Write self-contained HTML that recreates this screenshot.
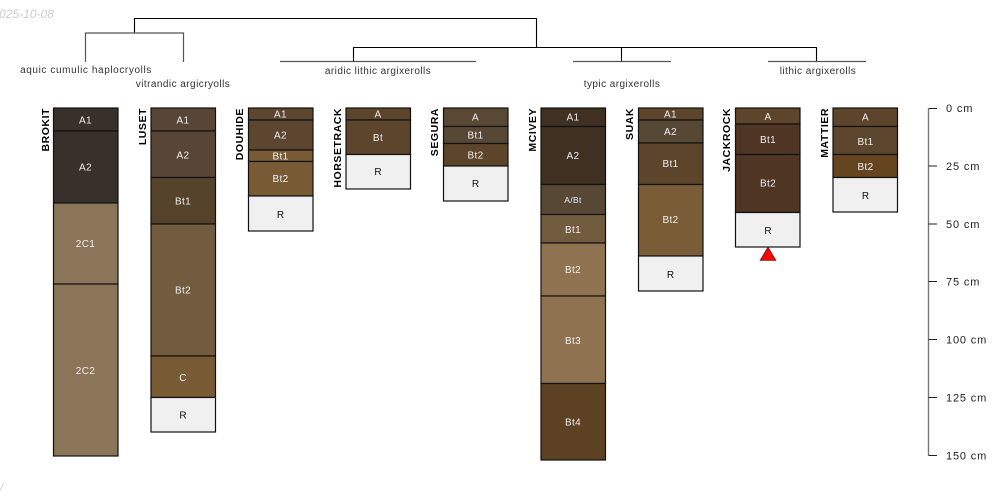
<!DOCTYPE html>
<html><head><meta charset="utf-8"><style>
html,body{margin:0;padding:0;background:#fff;width:1000px;height:500px;overflow:hidden}
svg{display:block;font-family:"Liberation Sans",sans-serif;font-size:10px}
.n{font-weight:bold;fill:#000;font-size:10.5px;letter-spacing:.55px}
.w{fill:#eee;text-anchor:middle;letter-spacing:.35px}
.k{fill:#111;text-anchor:middle}
.t{fill:#333;text-anchor:middle;font-size:10px;letter-spacing:.45px}
.a{fill:#222;font-size:11px;letter-spacing:.85px}
</style></head><body>
<svg width="1000" height="500" viewBox="0 0 1000 500" xmlns="http://www.w3.org/2000/svg">
<text x="-7.500" y="18" font-style="italic" fill="#ccc" font-size="12">2025-10-08</text>
<text x="0" y="491" font-style="italic" fill="#ccc" font-size="11">/</text>

<g fill="none">
<path d="M134.5 33V18.5H536.5V47M353.5 61V47.5H816.5V61M621.5 47.5V61" stroke="#000" stroke-width="1.1"/>
<path d="M85.5 62V33H183.5V62" stroke="#555" stroke-width="1.2"/>
<path d="M280 61.5H476M573 61.5H671M768 61.5H866" stroke="#555" stroke-width="1.2"/>
</g>
<text class="t" x="86" y="73" style="letter-spacing:.6px">aquic cumulic haplocryolls</text>
<text class="t" x="183" y="87">vitrandic argicryolls</text>
<text class="t" x="378" y="74">aridic lithic argixerolls</text>
<text class="t" x="622" y="87">typic argixerolls</text>
<text class="t" x="818" y="74">lithic argixerolls</text>

<g stroke="#111" stroke-width="1.2">
<rect x="53.500" y="108" width="64.500" height="23" fill="#38302a"/>
<rect x="53.500" y="131" width="64.500" height="72" fill="#38302a"/>
<rect x="53.500" y="203" width="64.500" height="81" fill="#8b7558"/>
<rect x="53.500" y="284" width="64.500" height="172" fill="#8b7558"/>

<rect x="151" y="108" width="64.500" height="23" fill="#574535"/>
<rect x="151" y="131" width="64.500" height="46.500" fill="#574535"/>
<rect x="151" y="177.500" width="64.500" height="46.500" fill="#54422b"/>
<rect x="151" y="224" width="64.500" height="132" fill="#725c40"/>
<rect x="151" y="356" width="64.500" height="41.500" fill="#785a34"/>
<rect x="151" y="397.500" width="64.500" height="34.500" fill="#f0f0f0"/>

<rect x="248.500" y="108" width="64.500" height="12" fill="#5c4630"/>
<rect x="248.500" y="120" width="64.500" height="30" fill="#5c4630"/>
<rect x="248.500" y="150" width="64.500" height="11.500" fill="#785a34"/>
<rect x="248.500" y="161.500" width="64.500" height="34.500" fill="#785a34"/>
<rect x="248.500" y="196" width="64.500" height="35" fill="#f0f0f0"/>

<rect x="346" y="108" width="64.500" height="12" fill="#5c452b"/>
<rect x="346" y="120" width="64.500" height="34.500" fill="#5c452b"/>
<rect x="346" y="154.500" width="64.500" height="34.500" fill="#f0f0f0"/>

<rect x="443.500" y="108" width="64.500" height="18.500" fill="#594934"/>
<rect x="443.500" y="126.500" width="64.500" height="17" fill="#574835"/>
<rect x="443.500" y="143.500" width="64.500" height="22.500" fill="#5c452b"/>
<rect x="443.500" y="166" width="64.500" height="35" fill="#f0f0f0"/>

<rect x="541" y="108" width="64.500" height="18.500" fill="#3f3022"/>
<rect x="541" y="126.500" width="64.500" height="58" fill="#3f3022"/>
<rect x="541" y="184.500" width="64.500" height="30" fill="#574835"/>
<rect x="541" y="214.500" width="64.500" height="28.500" fill="#725c40"/>
<rect x="541" y="243" width="64.500" height="53" fill="#8f7350"/>
<rect x="541" y="296" width="64.500" height="87.500" fill="#8f7350"/>
<rect x="541" y="383.500" width="64.500" height="76.500" fill="#5c4122"/>

<rect x="638.500" y="108" width="64.500" height="12" fill="#5c452b"/>
<rect x="638.500" y="120" width="64.500" height="23" fill="#574835"/>
<rect x="638.500" y="143" width="64.500" height="41.500" fill="#5c452b"/>
<rect x="638.500" y="184.500" width="64.500" height="71.500" fill="#7a5c36"/>
<rect x="638.500" y="256" width="64.500" height="35" fill="#f0f0f0"/>

<rect x="735.500" y="108" width="64.500" height="16" fill="#5c452b"/>
<rect x="735.500" y="124" width="64.500" height="30.500" fill="#4f3524"/>
<rect x="735.500" y="154.500" width="64.500" height="58" fill="#4f3524"/>
<rect x="735.500" y="212.500" width="64.500" height="34.500" fill="#f0f0f0"/>

<rect x="833" y="108" width="64.500" height="18.500" fill="#5c452b"/>
<rect x="833" y="126.500" width="64.500" height="28" fill="#5c472e"/>
<rect x="833" y="154.500" width="64.500" height="23" fill="#654520"/>
<rect x="833" y="177.500" width="64.500" height="34.500" fill="#f0f0f0"/>
</g>

<g class="n">
<text transform="translate(49,108) rotate(-90)" text-anchor="end">BROKIT</text>
<text transform="translate(146,108) rotate(-90)" text-anchor="end">LUSET</text>
<text transform="translate(243,108) rotate(-90)" text-anchor="end">DOUHIDE</text>
<text transform="translate(341,108) rotate(-90)" text-anchor="end">HORSETRACK</text>
<text transform="translate(438,108) rotate(-90)" text-anchor="end">SEGURA</text>
<text transform="translate(536,108) rotate(-90)" text-anchor="end">MCIVEY</text>
<text transform="translate(633,108) rotate(-90)" text-anchor="end">SUAK</text>
<text transform="translate(730,108) rotate(-90)" text-anchor="end">JACKROCK</text>
<text transform="translate(828,108) rotate(-90)" text-anchor="end">MATTIER</text>
</g>

<text class="w" x="85.500" y="123.500">A1</text>
<text class="w" x="85.500" y="170.500">A2</text>
<text class="w" x="85.500" y="247">2C1</text>
<text class="w" x="85.500" y="374">2C2</text>

<text class="w" x="183" y="123.500">A1</text>
<text class="w" x="183" y="158.500">A2</text>
<text class="w" x="183" y="204.500">Bt1</text>
<text class="w" x="183" y="293.500">Bt2</text>
<text class="w" x="183" y="381">C</text>
<text class="k" x="183" y="418.500">R</text>

<text class="w" x="280.500" y="117.500">A1</text>
<text class="w" x="280.500" y="138.500">A2</text>
<text class="w" x="280.500" y="159.500">Bt1</text>
<text class="w" x="280.500" y="182">Bt2</text>
<text class="k" x="280.500" y="218">R</text>

<text class="w" x="378" y="117.500">A</text>
<text class="w" x="378" y="141">Bt</text>
<text class="k" x="378" y="175">R</text>

<text class="w" x="475.500" y="120.500">A</text>
<text class="w" x="475.500" y="138.500">Bt1</text>
<text class="w" x="475.500" y="158.500">Bt2</text>
<text class="k" x="475.500" y="187">R</text>

<text class="w" x="573" y="120.500">A1</text>
<text class="w" x="573" y="159">A2</text>
<text class="w" x="573" y="203" font-size="8.500">A/Bt</text>
<text class="w" x="573" y="233">Bt1</text>
<text class="w" x="573" y="273">Bt2</text>
<text class="w" x="573" y="344">Bt3</text>
<text class="w" x="573" y="425.500">Bt4</text>

<text class="w" x="670.500" y="117.500">A1</text>
<text class="w" x="670.500" y="135">A2</text>
<text class="w" x="670.500" y="167">Bt1</text>
<text class="w" x="670.500" y="223">Bt2</text>
<text class="k" x="670.500" y="278">R</text>

<text class="w" x="768" y="120">A</text>
<text class="w" x="768" y="143">Bt1</text>
<text class="w" x="768" y="186.500">Bt2</text>
<text class="k" x="768" y="234">R</text>

<text class="w" x="865.500" y="120.500">A</text>
<text class="w" x="865.500" y="145">Bt1</text>
<text class="w" x="865.500" y="170">Bt2</text>
<text class="k" x="865.500" y="199">R</text>

<polygon points="768,247 760,260.500 776,260.500" fill="#f00" stroke="#222" stroke-width=".6"/>

<path d="M928.500 108.500V455.500" fill="none" stroke="#777" stroke-width="1.4"/>
<path d="M937 108.500H928.500M937 455.500H928.500M928.500 166H937M928.500 224H937M928.500 281.500H937M928.500 339.500H937M928.500 397.500H937" fill="none" stroke="#222"/>
<text class="a" x="946" y="112">0 cm</text>
<text class="a" x="946" y="170">25 cm</text>
<text class="a" x="946" y="228">50 cm</text>
<text class="a" x="946" y="285.500">75 cm</text>
<text class="a" x="946" y="343.500">100 cm</text>
<text class="a" x="946" y="401.500">125 cm</text>
<text class="a" x="946" y="459.500">150 cm</text>
</svg>
</body></html>
